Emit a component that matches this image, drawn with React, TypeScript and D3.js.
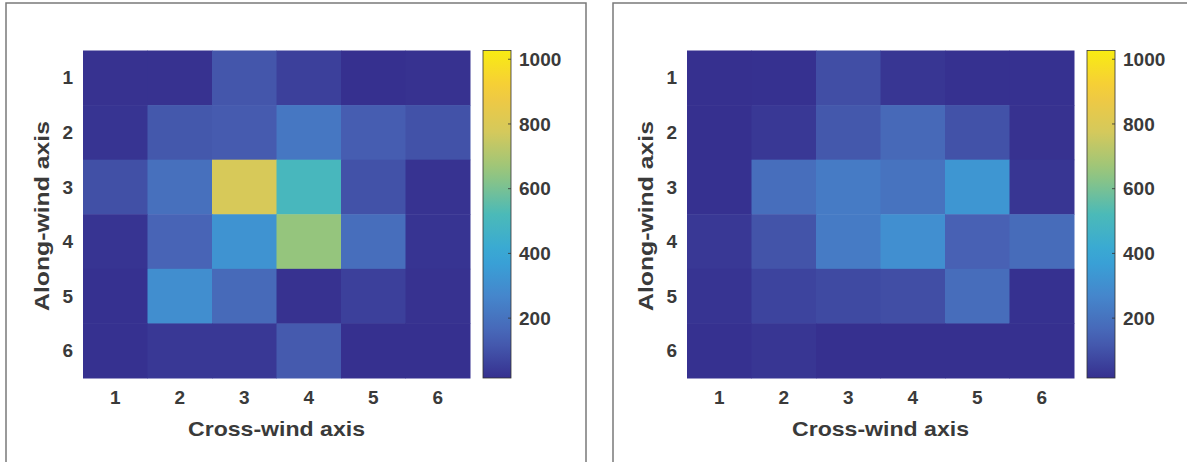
import React from "react";
import * as d3 from "d3";

// axis categories
const crossLabels = ["1", "2", "3", "4", "5", "6"];
const alongLabels = ["1", "2", "3", "4", "5", "6"];

// counts per cell, rows = along-wind 1..6, columns = cross-wind 1..6
const leftValues = [
  [20, 20, 110, 55, 15, 20],
  [25, 115, 125, 215, 130, 100],
  [95, 190, 785, 500, 100, 22],
  [25, 150, 320, 650, 185, 25],
  [18, 300, 170, 20, 55, 20],
  [18, 35, 35, 120, 15, 15],
];

const rightValues = [
  [15, 18, 90, 30, 18, 18],
  [15, 35, 115, 165, 100, 20],
  [18, 185, 230, 200, 330, 30],
  [35, 105, 230, 305, 140, 175],
  [25, 65, 80, 90, 180, 18],
  [18, 30, 15, 15, 15, 15],
];

const colorTicks = [200, 400, 600, 800, 1000];
const colorDomain = [15, 1027];

// parula-like stops, as they look in the print
const parulaStops = [
  "#36308f", "#4862b4", "#4586cc", "#36a6d8", "#4bbab8",
  "#94c57e", "#d4c95c", "#f5c93e", "#f8ec12",
];

const W = 1187;
const H = 462;
const font = "'Liberation Sans', Arial, Helvetica, sans-serif";
const textColor = "#3a3a3a";

const color = d3
  .scaleLinear<string>()
  .domain(parulaStops.map((_, i) => colorDomain[0] + (i / (parulaStops.length - 1)) * (colorDomain[1] - colorDomain[0])))
  .range(parulaStops)
  .interpolate(d3.interpolateRgb)
  .clamp(true);

const Panel = ({ values, dx, id }: { values: number[][]; dx: number; id: string }) => {
  const left = 83 + dx;
  const right = 470 + dx;
  const top = 50.5;
  const bottom = 378;
  const x = d3.scaleBand().domain(crossLabels).range([left, right]);
  const y = d3.scaleBand().domain(alongLabels).range([top, bottom]);
  const cbX0 = 483 + dx;
  const cbX1 = 511 + dx;
  const cy = d3.scaleLinear().domain(colorDomain).range([bottom, top]);
  const gradStops = d3.range(0, 1.0001, 0.05);

  return (
    <g>
      <defs>
        <linearGradient id={`grad-${id}`} x1="0" y1="1" x2="0" y2="0">
          {gradStops.map((t) => (
            <stop
              key={t}
              offset={t}
              stopColor={color(colorDomain[0] + t * (colorDomain[1] - colorDomain[0]))}
            />
          ))}
        </linearGradient>
      </defs>
      {values.map((row, r) =>
        row.map((v, c) => (
          <rect
            key={`${r}-${c}`}
            x={x(crossLabels[c])}
            y={y(alongLabels[r])}
            width={x.bandwidth() + 0.5}
            height={y.bandwidth() + 0.5}
            fill={color(v)}
          />
        ))
      )}
      {crossLabels.map((l) => (
        <text
          key={"x" + l}
          x={(x(l) as number) + x.bandwidth() / 2}
          y={404}
          textAnchor="middle"
          fontSize={19}
          fontWeight="bold"
          fontFamily={font}
          fill={textColor}
        >
          {l}
        </text>
      ))}
      {alongLabels.map((l) => (
        <text
          key={"y" + l}
          x={left - 10}
          y={(y(l) as number) + y.bandwidth() / 2}
          dy="0.35em"
          textAnchor="end"
          fontSize={19}
          fontWeight="bold"
          fontFamily={font}
          fill={textColor}
        >
          {l}
        </text>
      ))}
      <text
        x={(left + right) / 2}
        y={436}
        textAnchor="middle"
        fontSize={21}
        fontWeight="bold"
        fontFamily={font}
        fill={textColor}
        textLength={177}
        lengthAdjust="spacingAndGlyphs"
      >
        Cross-wind axis
      </text>
      <text
        transform={`translate(${49 + dx},${216}) rotate(-90)`}
        textAnchor="middle"
        fontSize={21}
        fontWeight="bold"
        fontFamily={font}
        fill={textColor}
        textLength={190}
        lengthAdjust="spacingAndGlyphs"
      >
        Along-wind axis
      </text>
      <rect
        x={cbX0}
        y={top}
        width={cbX1 - cbX0}
        height={bottom - top}
        fill={`url(#grad-${id})`}
        stroke="#333"
        strokeWidth={0.8}
      />
      {colorTicks.map((t) => (
        <g key={t}>
          <line x1={cbX1 - 3} x2={cbX1} y1={cy(t)} y2={cy(t)} stroke="#333" strokeWidth={0.8} />
          <text
            x={cbX1 + 8}
            y={cy(t)}
            dy="0.35em"
            fontSize={19}
            fontWeight="bold"
            fontFamily={font}
            fill={textColor}
          >
            {t}
          </text>
        </g>
      ))}
    </g>
  );
};

export default function App() {
  return (
    <svg
      width={W}
      height={H}
      style={{ position: "absolute", left: 0, top: 0, background: "#fff" }}
    >
      <rect x={0} y={0} width={W} height={H} fill="#fff" />
      {/* panel frames */}
      <path d={`M6,${H + 2} V3 H586 V${H + 2}`} fill="none" stroke="#7a7a7a" strokeWidth={1.5} />
      <path d={`M613,${H + 2} V3 H${W + 2}`} fill="none" stroke="#7a7a7a" strokeWidth={1.5} />
      <Panel values={leftValues} dx={0} id="a" />
      <Panel values={rightValues} dx={604} id="b" />
    </svg>
  );
}
